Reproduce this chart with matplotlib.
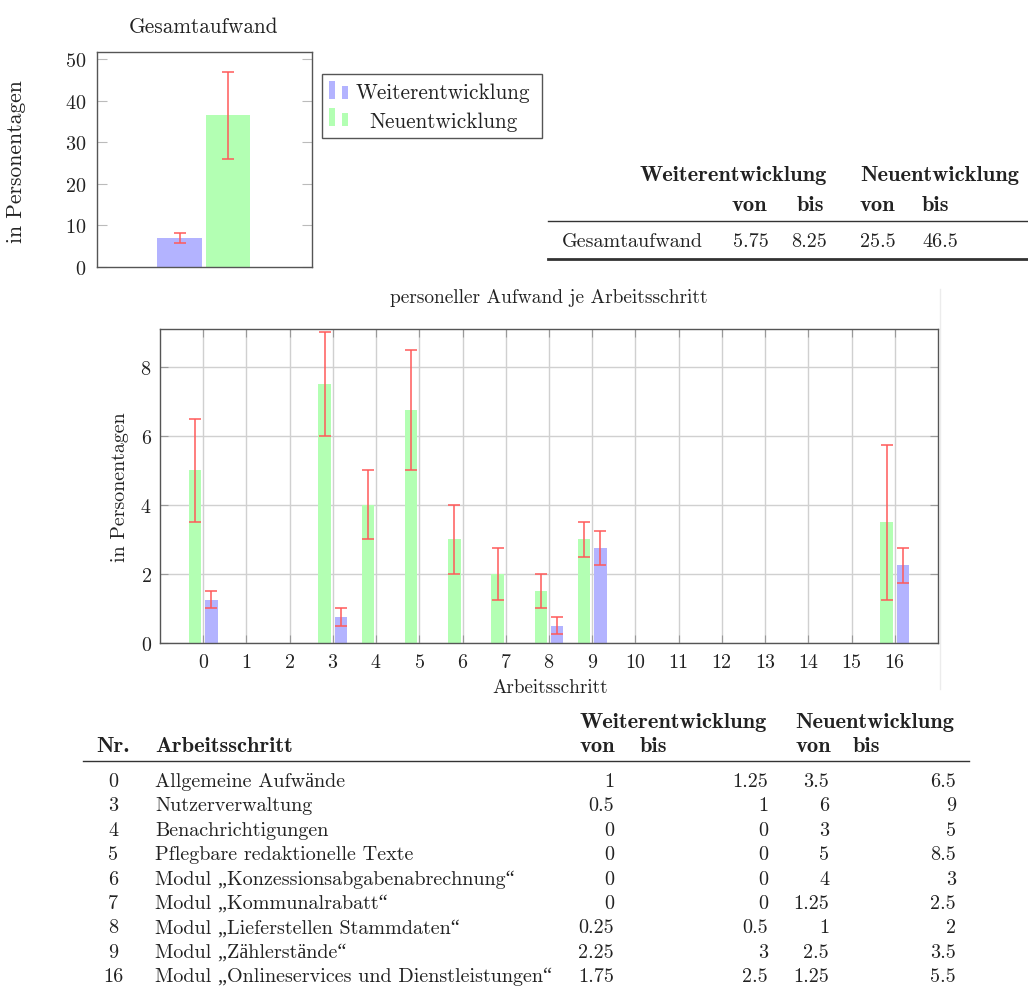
import matplotlib
matplotlib.use('Agg')
import matplotlib.pyplot as plt
from matplotlib.patches import Rectangle
from matplotlib.lines import Line2D
import numpy as np

# ---------------- data ----------------
series_names = ['Weiterentwicklung', 'Neuentwicklung']
total_means = [7.0, 36.5]
total_errors = [1.25, 10.5]

steps = [0, 3, 4, 5, 6, 7, 8, 9, 16]
neu_means = [5.0, 7.5, 4.0, 6.75, 3.0, 2.0, 1.5, 3.0, 3.5]
neu_errors = [1.5, 1.5, 1.0, 1.75, 1.0, 0.75, 0.5, 0.5, 2.25]
weiter_means = [1.25, 0.75, 0.0, 0.0, 0.0, 0.0, 0.5, 2.75, 2.25]
weiter_errors = [0.25, 0.25, 0.0, 0.0, 0.0, 0.0, 0.25, 0.5, 0.5]
xtick_values = list(range(17))
total_yticks = [0, 10, 20, 30, 40, 50]
step_yticks = [0, 2, 4, 6, 8]

summary_label = 'Gesamtaufwand'
summary_values = ['5.75', '8.25', '25.5', '46.5']

step_names = ['Allgemeine Aufwände', 'Nutzerverwaltung', 'Benachrichtigungen',
              'Pflegbare redaktionelle Texte',
              'Modul \u201eKonzessionsabgabenabrechnung\u201c',
              'Modul \u201eKommunalrabatt\u201c',
              'Modul \u201eLieferstellen Stammdaten\u201c',
              'Modul \u201eZählerstände\u201c',
              'Modul \u201eOnlineservices und Dienstleistungen\u201c']
weiter_von = ['1', '0.5', '0', '0', '0', '0', '0.25', '2.25', '1.75']
weiter_bis = ['1.25', '1', '0', '0', '0', '0', '0.5', '3', '2.5']
neu_von = ['3.5', '6', '3', '5', '4', '1.25', '1', '2.5', '1.25']
neu_bis = ['6.5', '9', '5', '8.5', '3', '2.5', '2', '3.5', '5.5']

# ---------------- style ----------------
RM = ['cmr10', 'Liberation Serif', 'DejaVu Serif']
BF = ['cmb10', 'Liberation Serif', 'DejaVu Serif']
plt.rcParams['font.family'] = RM
plt.rcParams['axes.formatter.use_mathtext'] = True
plt.rcParams['mathtext.fontset'] = 'cm'

BLUE = '#b3b3ff'
GREEN = '#b3ffb3'
RED = '#ff5a5a'
FRAME = '#555555'
TXT = '#222222'
BOLD_SIZE = 16.2

W, H = 1028, 987
fig = plt.figure(figsize=(W / 100, H / 100), dpi=100)


def fx(x):
    return x / W


def fy(y):
    return 1 - y / H


def text(x, y, s, ha='left', bold=False, size=14.5, **kw):
    fig.text(fx(x), fy(y), s, ha=ha, va='baseline', family=BF if bold else RM,
             weight='bold' if bold else 'normal',
             fontsize=BOLD_SIZE if bold else size, color=TXT, **kw)


def hline(x0, x1, y, lw):
    fig.add_artist(Line2D([fx(x0), fx(x1)], [fy(y), fy(y)], color='#333333', lw=lw,
                          transform=fig.transFigure))


# ---------------- top-left chart ----------------
ax1 = fig.add_axes([fx(97), fy(268), fx(312) - fx(97), fy(53) - fy(268)])
offsets = [-0.116, 0.109]
colors = [BLUE, GREEN]
for i in range(2):
    ax1.bar(offsets[i], total_means[i], width=0.207, color=colors[i], zorder=2)
    ax1.errorbar(offsets[i], total_means[i], yerr=total_errors[i], fmt='none',
                 ecolor=RED, elinewidth=1.1, capsize=4, capthick=1.1, zorder=3)
ax1.set_xlim(-0.5, 0.5)
ax1.set_ylim(0, 51.7)
ax1.set_xticks([])
ax1.set_yticks(total_yticks)
ax1.tick_params(axis='y', direction='in', length=7, width=0.8, color='#bbbbbb',
                left=True, right=True, labelsize=14.5, pad=8, labelcolor=TXT)
for sp in ax1.spines.values():
    sp.set_color(FRAME)
    sp.set_linewidth(1.0)
text(204, 33, 'Gesamtaufwand', ha='center', size=15.3)
fig.text(fx(16), fy(162), 'in Personentagen', rotation=90, ha='center', va='center',
         fontsize=15.5, color=TXT, family=RM)

# legend (manual)
fig.add_artist(Rectangle((fx(322), fy(139)), fx(542) - fx(322), fy(75) - fy(139),
                         transform=fig.transFigure, fill=False, edgecolor=FRAME, lw=1.0))
for j, (c, yb) in enumerate([(BLUE, 100), (GREEN, 127)]):
    fig.add_artist(Rectangle((fx(329), fy(yb)), fx(6), fy(yb - 18) - fy(yb),
                             transform=fig.transFigure, color=c, lw=0))
    fig.add_artist(Rectangle((fx(342), fy(yb)), fx(6), fy(yb - 13) - fy(yb),
                             transform=fig.transFigure, color=c, lw=0))
text(443, 99, series_names[0], ha='center', size=15.3)
text(443, 128, series_names[1], ha='center', size=15.3)

# ---------------- top table ----------------
text(640, 181, series_names[0], bold=True)
text(860, 181, series_names[1], bold=True)
for xx, s in zip([731, 797, 860, 922], ['von', 'bis', 'von', 'bis']):
    text(xx, 211, s, bold=True)
hline(548, 1028, 222, 1.0)
text(562, 247, summary_label)
for xx, s in zip([733, 791, 860, 922], summary_values):
    text(xx, 247, s)
hline(548, 1028, 260, 2.0)

# ---------------- middle chart ----------------
ax2 = fig.add_axes([fx(160), fy(644), fx(938) - fx(160), fy(330) - fy(644)])
x = np.array(steps, dtype=float)
ax2.bar(x - 0.19, neu_means, width=0.29, color=GREEN, zorder=2)
ax2.bar(x + 0.19, weiter_means, width=0.29, color=BLUE, zorder=2)
nm = np.array(neu_errors) > 0
wm = np.array(weiter_errors) > 0
ax2.errorbar((x - 0.19)[nm], np.array(neu_means)[nm], yerr=np.array(neu_errors)[nm],
             fmt='none', ecolor=RED, elinewidth=1.1, capsize=4, capthick=1.1, zorder=3)
ax2.errorbar((x + 0.19)[wm], np.array(weiter_means)[wm], yerr=np.array(weiter_errors)[wm],
             fmt='none', ecolor=RED, elinewidth=1.1, capsize=4, capthick=1.1, zorder=3)
ax2.set_xlim(-1, 17)
ax2.set_ylim(0, 9.1)
ax2.set_xticks(xtick_values)
ax2.set_yticks(step_yticks)
ax2.grid(True, color='#d0d0d0', lw=1.0, zorder=0)
ax2.set_axisbelow(True)
ax2.tick_params(axis='both', direction='in', length=6, width=0.8, color='#999999',
                labelsize=14.4, labelcolor=TXT, top=True, right=True)
ax2.tick_params(axis='x', pad=7)
ax2.tick_params(axis='y', pad=6)
for sp in ax2.spines.values():
    sp.set_color(FRAME)
    sp.set_linewidth(1.0)
text(549, 303, 'personeller Aufwand je Arbeitsschritt', ha='center', size=14.0)
text(550, 693, 'Arbeitsschritt', ha='center', size=13.8)
fig.text(fx(120), fy(487), 'in Personentagen', rotation=90, ha='center', va='center',
         fontsize=14.4, color=TXT, family=RM)

# faint screenshot border line
fig.add_artist(Line2D([fx(939.5), fx(939.5)], [fy(290), fy(690)], color='#ececec', lw=1.0,
                      transform=fig.transFigure))

# ---------------- bottom table ----------------
text(580, 728, series_names[0], bold=True)
text(795, 728, series_names[1], bold=True)
text(96, 752, 'Nr.', bold=True)
text(155, 752, 'Arbeitsschritt', bold=True)
for xx, s in zip([580, 640, 795, 853], ['von', 'bis', 'von', 'bis']):
    text(xx, 752, s, bold=True)
hline(83, 969, 762, 1.0)
for i in range(len(steps)):
    yb = 787 + i * 24.4
    text(113, yb, str(steps[i]), ha='center')
    text(155, yb, step_names[i])
    text(614, yb, weiter_von[i], ha='right')
    text(768, yb, weiter_bis[i], ha='right')
    text(829, yb, neu_von[i], ha='right')
    text(956, yb, neu_bis[i], ha='right')

fig.savefig('out.png', dpi=100, facecolor='white')
